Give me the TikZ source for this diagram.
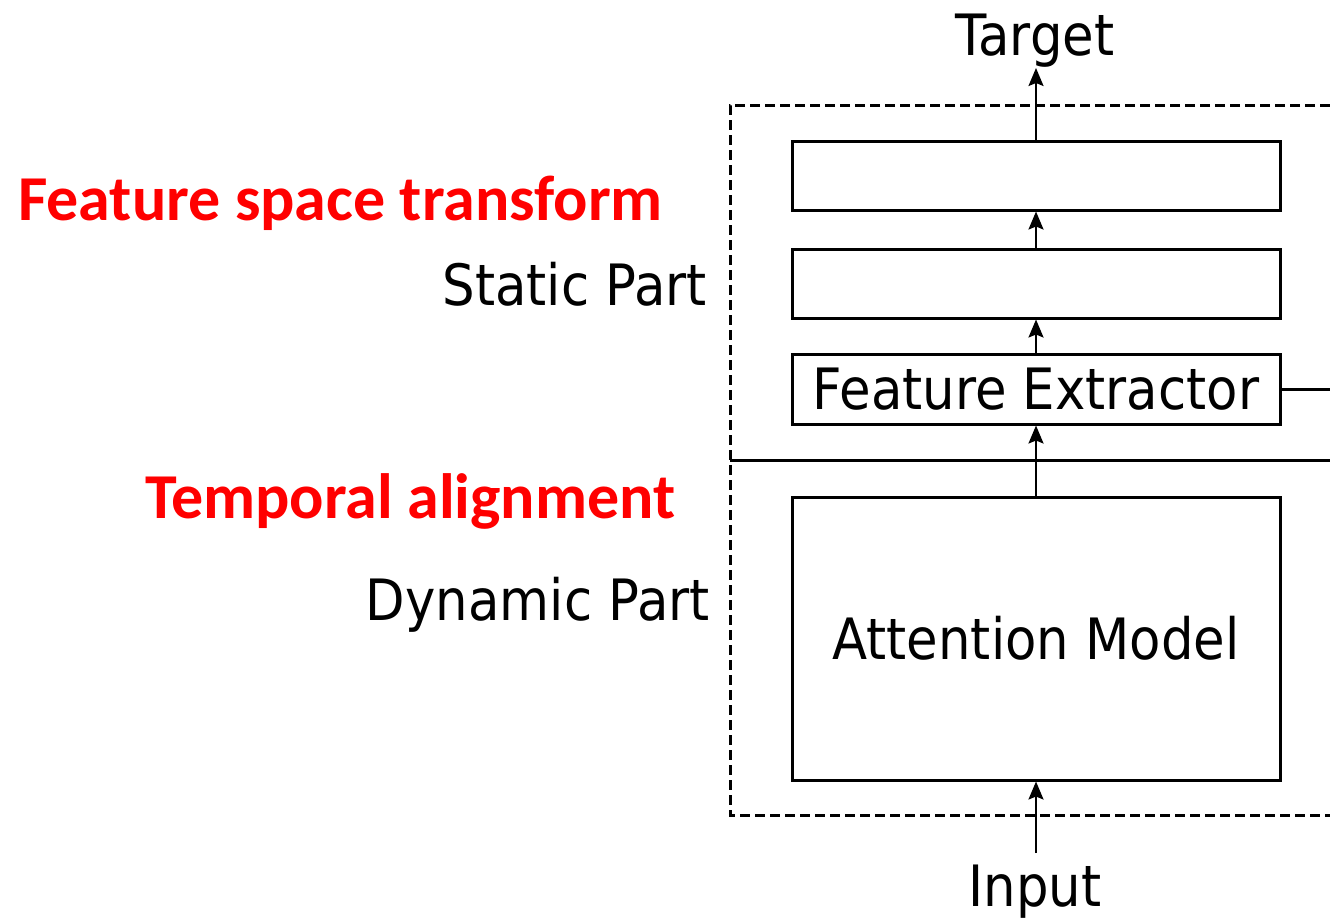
\documentclass[tikz,border=0pt]{standalone}
\usepackage{fontspec}
\usetikzlibrary{arrows.meta}
\newfontfamily\lblfont[FakeStretch=0.9]{DejaVu Sans}
\newfontfamily\notefont{Carlito}
\tikzset{
  every picture/.style={x=1pt,y=-1pt},
  blk/.style={draw, line width=3pt, minimum width=488pt, inner sep=0pt},
  lbl/.style={inner sep=0pt, font=\lblfont\fontsize{57}{60}\selectfont},
  note/.style={inner sep=0pt, text=red, font=\notefont\bfseries\fontsize{64}{68}\selectfont},
  flow/.style={line width=2pt, -{Stealth[length=18pt,width=15pt,inset=3pt]}},
}
\begin{document}
\begin{tikzpicture}
\useasboundingbox (0,0) rectangle (1330,918);

% dashed frame around both parts (open on the right)
\draw[line width=3pt, dash pattern=on 10pt off 5pt]
  (1330,105) -- (730,105) -- (730,815) -- (1330,815);
% separator between static and dynamic part
\draw[line width=3pt] (730,460) -- (1330,460);

% blocks
\node[blk, minimum height=69pt] (top) at (1036,175.5) {};
\node[blk, minimum height=69pt] (mid) at (1036,283.5) {};
\node[blk, minimum height=70pt, lbl] (fe) at (1036,389) {Feature Extractor};
\node[blk, minimum height=283pt, lbl] (att) at (1036,638.5) {Attention Model};

% outer labels
\node[lbl, anchor=base] (target) at (1035,55) {Target};
\node[lbl, anchor=base] (input) at (1035,906) {Input};
\coordinate (tgt) at (1036,68);
\coordinate (inp) at (1036,853);
\coordinate (side) at (1330,389);

\node[lbl, anchor=base east] (static) at (707,305) {Static Part};
\node[lbl, anchor=base east] (dynamic) at (710,620) {Dynamic Part};
\node[note, anchor=base west] (fst) at (18,220) {Feature space transform};
\node[note, anchor=base west] (ta) at (145,518) {Temporal alignment};

% data flow
\draw[flow] (inp) -- (att.south);
\draw[flow] (att.north) -- (fe.south);
\draw[flow] (fe.north) -- (mid.south);
\draw[flow] (mid.north) -- (top.south);
\draw[flow] (top.north) -- (tgt);
\draw[line width=3pt] (fe.east) -- (side);
\end{tikzpicture}
\end{document}
